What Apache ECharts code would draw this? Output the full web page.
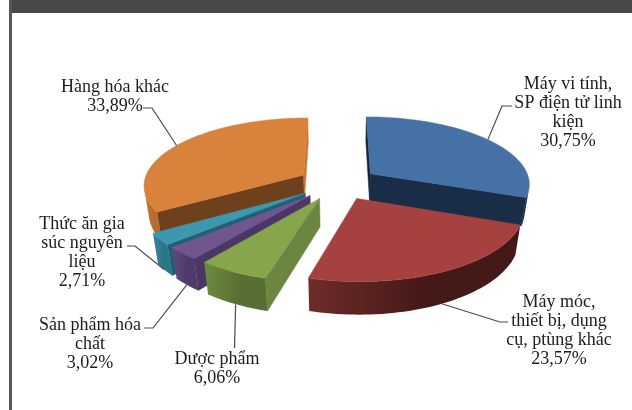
<!DOCTYPE html>
<html>
<head>
<meta charset="utf-8">
<style>
  html, body { margin: 0; padding: 0; background: #fff; }
  #chart { width: 632px; height: 410px; }
</style>
</head>
<body>
<div id="chart"></div>
<script src="https://cdn.jsdelivr.net/npm/echarts@6/dist/echarts.min.js"></script>
<script>
// order is clockwise from 12 o'clock
var categories = [
  "Máy vi tính,\nSP điện tử linh\nkiện",
  "Máy móc,\nthiết bị, dụng\ncụ, ptùng khác",
  "Dược phẩm",
  "Sản phẩm hóa\nchất",
  "Thức ăn gia\nsúc nguyên\nliệu",
  "Hàng hóa khác"
];
var shares = [30.75, 23.57, 6.06, 3.02, 2.71, 33.89];

// far slices first so the near ones paint over them
var drawOrder = [0, 5, 4, 3, 2, 1];

var colors = [
  { top: "#4571a6", startWall: "#14233a", endWall: "#1a2d46", rimA: "#1a2d46", rimB: "#1a2d46" },
  { top: "#a5423f", startWall: "#47191a", endWall: "#47191a", rimA: "#451918", rimB: "#6e2c2a" },
  { top: "#87a54a", startWall: "#6b8640", endWall: "#6b8640", rimA: "#586f33", rimB: "#6d8c40" },
  { top: "#71558f", startWall: "#4a3766", endWall: "#4a3766", rimA: "#4e3b6b", rimB: "#604a7e" },
  { top: "#3c97b1", startWall: "#1f6074", endWall: "#1f6074", rimA: "#2b7689", rimB: "#38859b" },
  { top: "#d9823b", startWall: "#6e401c", endWall: "#c77a38", rimA: "#b56b30", rimB: "#c9793a" }
];

// label centre, first line y, leader start and elbow
var labelLayout = [
  { x: 568, y: 83, from: [512, 106], elbow: [502, 106], bottom: false },
  { x: 559, y: 301, from: [508, 322], elbow: [500, 322], bottom: true },
  { x: 217, y: 358, from: [234.5, 348], elbow: [234.5, 348], bottom: true },
  { x: 90, y: 324, from: [144, 328], elbow: [153, 328], bottom: true },
  { x: 82, y: 223, from: [127, 246], elbow: [135, 246], bottom: true },
  { x: 115, y: 86, from: [143, 108], elbow: [152, 108], bottom: false }
];

var CX = 338, CY = 183;
var SCALE_X = 160, SCALE_Y = 67, DEPTH = 27.5;
var PERSPECTIVE = 0.138, CONVERGE = 0.025;
var EXPLODE = 0.25;

// angle limits of each slice in radians
var total = shares.reduce(function (a, b) { return a + b; }, 0);
var limits = [];
var cum = 0;
shares.forEach(function (v) {
  var start = cum / total * Math.PI * 2;
  cum += v;
  limits.push([start, cum / total * Math.PI * 2]);
});

function project(i, r, theta, h) {
  var mid = (limits[i][0] + limits[i][1]) / 2;
  var x = EXPLODE * Math.sin(mid) + r * Math.sin(theta);
  var z = EXPLODE * Math.cos(mid) + r * Math.cos(theta);
  var s = 1 / (1 + PERSPECTIVE * z);
  var sx = 1 / (1 + PERSPECTIVE * z + CONVERGE * h);
  return [CX + SCALE_X * x * sx, CY - SCALE_Y * z * s + DEPTH * h * s];
}

function area(pts) {
  var a = 0;
  for (var i = 0; i < pts.length; i++) {
    var p = pts[i], q = pts[(i + 1) % pts.length];
    a += p[0] * q[1] - q[0] * p[1];
  }
  return a;
}

function poly(points, fill, stroke) {
  return {
    type: "polygon",
    shape: { points: points },
    style: { fill: fill, stroke: stroke || fill, lineWidth: 0.5 }
  };
}

function renderSlice(params, api) {
  var i = api.value(0);
  var t1 = limits[i][0], t2 = limits[i][1];
  var c = colors[i];
  var kids = [];

  var startQuad = [project(i, 0, t1, 0), project(i, 1, t1, 0), project(i, 1, t1, 1), project(i, 0, t1, 1)];
  if (area(startQuad) < 0) kids.push(poly(startQuad, c.startWall));
  var endQuad = [project(i, 0, t2, 0), project(i, 1, t2, 0), project(i, 1, t2, 1), project(i, 0, t2, 1)];
  if (area(endQuad) > 0) kids.push(poly(endQuad, c.endWall));

  var steps = Math.max(4, Math.round((t2 - t1) / 0.03));
  var top = [project(i, 0, t1, 0)];
  var rimTop = [], rimBottom = [];
  for (var k = 0; k <= steps; k++) {
    var a = t1 + (t2 - t1) * k / steps;
    top.push(project(i, 1, a, 0));
    if (k < steps) {
      var b = t1 + (t2 - t1) * (k + 1) / steps;
      var quad = [project(i, 1, a, 0), project(i, 1, b, 0), project(i, 1, b, 1), project(i, 1, a, 1)];
      if (area(quad) < 0) {
        if (!rimTop.length) {
          rimTop.push(quad[0]);
          rimBottom.push(quad[3]);
        }
        rimTop.push(quad[1]);
        rimBottom.push(quad[2]);
      }
    }
  }
  if (rimTop.length) {
    var shade = new echarts.graphic.LinearGradient(0, 0, 1, 0, [
      { offset: 0, color: c.rimB },
      { offset: 0.55, color: c.rimA },
      { offset: 1, color: c.rimA }
    ]);
    kids.push(poly(rimTop.concat(rimBottom.reverse()), shade, "none"));
  }
  kids.push(poly(top, c.top));
  return { type: "group", children: kids };
}

function renderLabel(params, api) {
  var i = api.value(0);
  var l = labelLayout[i];
  var mid = (limits[i][0] + limits[i][1]) / 2;
  var end = project(i, 1, mid, l.bottom ? 1 : 0);
  var pct = shares[i].toFixed(2).replace(".", ",") + "%";
  return {
    type: "group",
    children: [
      {
        type: "polyline",
        shape: { points: [l.from, l.elbow, end] },
        style: { fill: null, stroke: "#4a4a4a", lineWidth: 1.2 }
      },
      {
        type: "text",
        style: {
          x: l.x, y: l.y - 8,
          text: categories[i] + "\n" + pct,
          align: "center", verticalAlign: "top",
          font: '18px "Liberation Serif"', lineHeight: 19,
          fill: "#1c1c1c"
        }
      }
    ]
  };
}

var chart = echarts.init(document.getElementById("chart"));
chart.setOption({
  animation: false,
  backgroundColor: "#ffffff",
  graphic: [
    { type: "rect", shape: { x: 9, y: 0, width: 623, height: 13 }, style: { fill: "#484848" } },
    { type: "rect", shape: { x: 9, y: 0, width: 3, height: 410 }, style: { fill: "#585858" } }
  ],
  series: [
    {
      type: "custom",
      coordinateSystem: "none",
      silent: true,
      renderItem: renderSlice,
      data: drawOrder.map(function (i) { return [i]; })
    },
    {
      type: "custom",
      coordinateSystem: "none",
      silent: true,
      renderItem: renderLabel,
      data: categories.map(function (c, i) { return [i]; })
    }
  ]
});
</script>
</body>
</html>
